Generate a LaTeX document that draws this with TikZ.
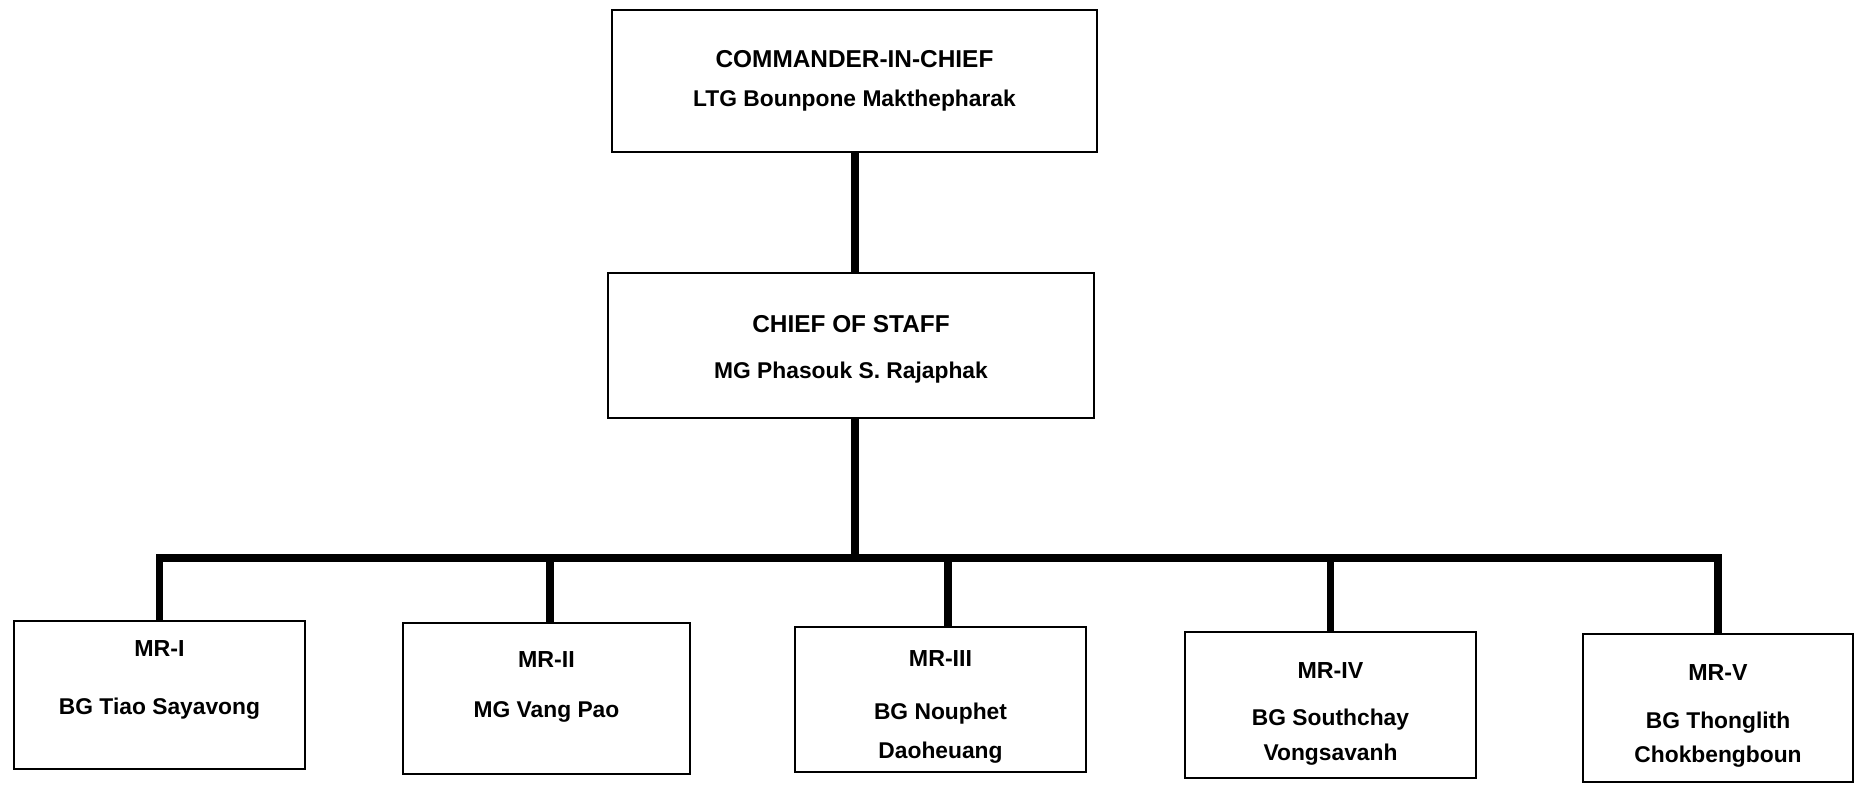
\documentclass[tikz,border=0pt]{standalone}
\usepackage{fontspec}
\setmainfont{Liberation Sans}
\begin{document}
\begin{tikzpicture}[x=0.5pt,y=-0.5pt,
  box/.style={draw, line width=1.3pt, inner sep=0pt},
  conn/.style={line width=3.6pt},
  ttl/.style={font=\fontsize{12.2}{14}\selectfont\bfseries, anchor=base, inner sep=0pt},
  nm/.style={font=\fontsize{11.4}{13}\selectfont\bfseries, anchor=base, inner sep=0pt},
  mrt/.style={font=\fontsize{11.6}{13}\selectfont\bfseries, anchor=base, inner sep=0pt}]
\useasboundingbox[fill=white] (0,0) rectangle (1855,784);

% boxes
\node[box, minimum width=242.5pt, minimum height=71pt] (cinc) at (854.5,81) {};
\node[box, minimum width=243pt, minimum height=72.5pt] (cos) at (851,345.5) {};
\node[box, minimum width=145.5pt, minimum height=74pt] (mr1) at (159.5,695) {};
\node[box, minimum width=143.5pt, minimum height=75.5pt] (mr2) at (546.5,698.5) {};
\node[box, minimum width=145.5pt, minimum height=72.5pt] (mr3) at (940.5,699.5) {};
\node[box, minimum width=145.5pt, minimum height=73pt] (mr4) at (1330.5,705) {};
\node[box, minimum width=135pt, minimum height=74pt] (mr5) at (1718,708) {};

% texts
\node[ttl] (cincA) at (854.5,67) {COMMANDER-IN-CHIEF};
\node[nm]  (cincB) at (854.5,106) {LTG Bounpone Makthepharak};
\node[ttl] (cosA) at (851,332) {CHIEF OF STAFF};
\node[nm]  (cosB) at (851,378) {MG Phasouk S. Rajaphak};
\node[mrt] (mr1A) at (159.5,656) {MR-I};
\node[nm]  (mr1B) at (159.5,714) {BG Tiao Sayavong};
\node[mrt] (mr2A) at (546.5,667) {MR-II};
\node[nm]  (mr2B) at (546.5,717) {MG Vang Pao};
\node[mrt] (mr3A) at (940.5,666) {MR-III};
\node[nm]  (mr3B) at (940.5,719) {BG Nouphet};
\node[nm]  (mr3C) at (940.5,758) {Daoheuang};
\node[mrt] (mr4A) at (1330.5,678) {MR-IV};
\node[nm]  (mr4B) at (1330.5,725) {BG Southchay};
\node[nm]  (mr4C) at (1330.5,760) {Vongsavanh};
\node[mrt] (mr5A) at (1718,680) {MR-V};
\node[nm]  (mr5B) at (1718,728) {BG Thonglith};
\node[nm]  (mr5C) at (1718,762) {Chokbengboun};

% connectors
\coordinate (bar) at (855,558);
\draw[conn] (cinc.south -| bar) -- (cos.north -| bar);
\draw[conn] (cos.south -| bar) -- (bar);
\draw[conn, line join=miter] (mr1.north) |- (bar) -| (mr5.north);
\draw[conn] ([xshift=1.75pt]mr2.north) -- ([xshift=1.75pt]mr2.north |- bar);
\draw[conn] ([xshift=3.75pt]mr3.north) -- ([xshift=3.75pt]mr3.north |- bar);
\draw[conn] (mr4.north) -- (mr4.north |- bar);
\end{tikzpicture}
\end{document}
